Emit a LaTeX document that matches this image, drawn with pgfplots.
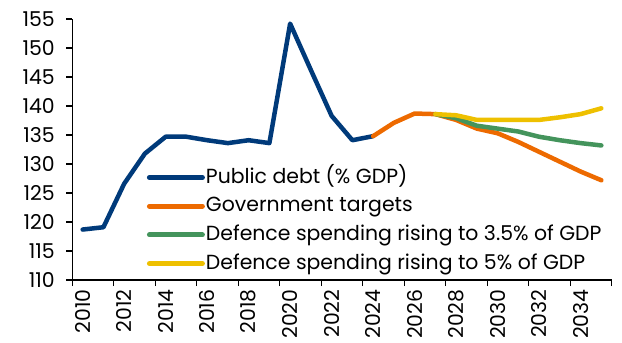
\documentclass[border=0pt]{standalone}
\usepackage{pgfplots}
\pgfplotsset{compat=1.18}
\usepackage{fontspec}
\setmainfont{Poppins}
\definecolor{cblue}{RGB}{0,58,122}
\definecolor{corange}{RGB}{237,106,0}
\definecolor{cgreen}{RGB}{68,148,92}
\definecolor{cyellow}{RGB}{238,192,0}
\begin{document}
\begin{tikzpicture}
\begin{axis}[
  at={(0,0)}, anchor=south west,
  scale only axis, width=539.4bp, height=261bp,
  xmin=2010, xmax=2036, ymin=110, ymax=155,
  axis x line=bottom, axis y line=left,
  axis line style={line width=1.2bp, -},
  ytick={110,115,...,155},
  xtick={2010.5,2012.5,2014.5,2016.5,2018.5,2020.5,2022.5,2024.5,2026.5,2028.5,2030.5,2032.5,2034.5},
  xticklabels={2010,2012,2014,2016,2018,2020,2022,2024,2026,2028,2030,2032,2034},
  minor xtick={2010,2012,...,2036},
  major tick length=6bp, minor tick length=6bp,
  tick align=outside,
  tick style={black, line width=1.2bp},
  major x tick style={draw=none},
  ticklabel style={font=\fontsize{20.5}{23}\selectfont},
  x tick label style={rotate=90, anchor=east},
  y tick label style={xshift=-8bp},
  /pgf/number format/assume math mode=true,
  clip=false,
  legend cell align=left,
  legend style={draw=none, fill=none, inner sep=0pt, anchor=north west,
    at={(0.138,0.4337)}, font=\fontsize{20.5}{23}\selectfont,
    row sep=7.7bp,
    nodes={text height=15bp, text depth=4bp, inner sep=1bp}},
  legend image code/.code={\draw[#1, line width=5bp, line cap=round] (0bp,0bp) -- (53bp,0bp);},
  every axis plot/.append style={line width=4.5bp, line join=round, line cap=round},
]
\addplot[cblue] coordinates {(2010.5,118.7)(2011.5,119.1)(2012.5,126.6)(2013.5,131.8)(2014.5,134.7)(2015.5,134.7)(2016.5,134.1)(2017.5,133.6)(2018.5,134.1)(2019.5,133.6)(2020.5,154.2)(2021.5,146.2)(2022.5,138.3)(2023.5,134.1)(2024.5,134.8)};
\addlegendentry{Public debt (\% GDP)}
\addplot[corange] coordinates {(2024.5,134.8)(2025.5,137.1)(2026.5,138.7)(2027.5,138.6)(2028.5,137.6)(2029.5,136.1)(2030.5,135.3)(2031.5,133.8)(2032.5,132.1)(2033.5,130.4)(2034.5,128.7)(2035.5,127.2)};
\addlegendentry{Government targets}
\addplot[cgreen] coordinates {(2027.5,138.6)(2028.5,137.9)(2029.5,136.6)(2030.5,136.1)(2031.5,135.6)(2032.5,134.7)(2033.5,134.1)(2034.5,133.6)(2035.5,133.2)};
\addlegendentry{Defence spending rising to 3.5\% of GDP}
\addplot[cyellow] coordinates {(2027.5,138.6)(2028.5,138.4)(2029.5,137.6)(2030.5,137.6)(2031.5,137.6)(2032.5,137.6)(2033.5,138.05)(2034.5,138.6)(2035.5,139.6)};
\addlegendentry{Defence spending rising to 5\% of GDP}
\end{axis}
\pgfresetboundingbox
\path (-72.3bp,-63bp) rectangle (549.7bp,280bp);
\end{tikzpicture}
\end{document}
